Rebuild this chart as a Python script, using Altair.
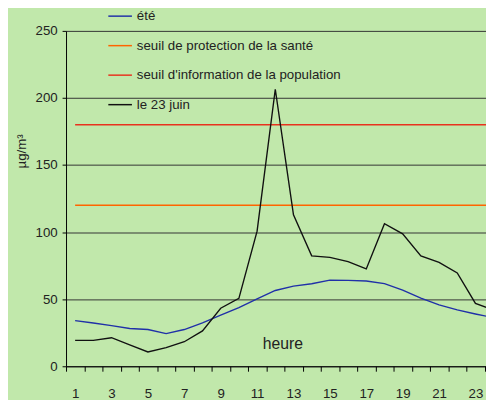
import altair as alt
import pandas as pd

hours = list(range(1, 25))
ete = [34.0, 32.3, 30.3, 28.2, 27.4, 24.4, 27.4, 32.4, 38.2, 43.8, 50.2, 56.5,
       59.8, 61.5, 64.2, 64.0, 63.6, 61.6, 56.7, 50.8, 45.8, 42.0, 39.0, 36.2]
juin = [19.3, 19.3, 21.3, 16.0, 10.7, 13.9, 18.3, 26.4, 43.3, 50.6, 100.7, 206.5,
        112.9, 82.3, 81.2, 78.0, 72.6, 106.3, 98.7, 82.3, 77.5, 69.6, 46.9, 42.0]
seuil_sante = 120
seuil_info = 180

series_names = ["été", "seuil de protection de la santé",
                "seuil d'information de la population", "le 23 juin"]
series_colors = ["#2030a8", "#ff6400", "#e8321e", "#111111"]

rows = []
for h, v in zip(hours, ete):
    rows.append({"heure": h, "valeur": v, "serie": series_names[0]})
for h in hours:
    rows.append({"heure": h, "valeur": seuil_sante, "serie": series_names[1]})
for h in hours:
    rows.append({"heure": h, "valeur": seuil_info, "serie": series_names[2]})
for h, v in zip(hours, juin):
    rows.append({"heure": h, "valeur": v, "serie": series_names[3]})
df = pd.DataFrame(rows)

x_ticks = [h - 0.5 for h in hours] + hours
y_ticks = [0, 50, 100, 150, 200, 250]

FS = 13.5

chart = alt.Chart(df).mark_line(clip=True, strokeWidth=1.4).encode(
    x=alt.X("heure:Q",
            scale=alt.Scale(domain=[0.5, 23.58], nice=False, zero=False),
            axis=alt.Axis(values=x_ticks, grid=False, title="heure",
                          titleX=220, titleY=-23, titleBaseline="middle",
                          titleFontSize=16, titleFontWeight="normal",
                          titleColor="#222222",
                          domainColor="#000000", tickColor="#000000",
                          tickSize=5,
                          tickOpacity={"condition": {"test": "datum.value % 1 != 0", "value": 1}, "value": 0},
                          labelExpr="datum.value % 2 == 1 ? format(datum.value, 'd') : ''",
                          labelOverlap=False, labelFlush=False, labelPadding=16,
                          labelFontSize=FS, labelColor="#222222")),
    y=alt.Y("valeur:Q",
            scale=alt.Scale(domain=[0, 250], nice=False),
            axis=alt.Axis(values=y_ticks, grid=True, gridColor="#333333",
                          gridOpacity=1, title="µg/m³",
                          titleX=-45, titleY=122, titleBaseline="middle",
                          titleFontSize=FS, titleFontWeight="normal",
                          titleColor="#222222",
                          domainColor="#000000", tickColor="#000000", tickSize=4,
                          labelPadding=5, labelFontSize=FS, labelColor="#222222")),
    color=alt.Color("serie:N",
                    scale=alt.Scale(domain=series_names, range=series_colors),
                    legend=alt.Legend(orient="none", legendX=42, legendY=-28,
                                      title=None, symbolType="stroke",
                                      symbolSize=576, symbolStrokeWidth=1.5,
                                      labelFontSize=FS, labelColor="#222222",
                                      labelOffset=4, rowPadding=10, padding=0,
                                      labelLimit=400)),
).properties(
    width=427, height=341,
    autosize=alt.AutoSizeParams(type="none"),
    padding={"left": 59, "top": 20, "right": 0, "bottom": 31},
    background="#c1e8ab",
).configure(font="Liberation Sans").configure_view(strokeWidth=0)

chart.save("out.html", embed_options={"renderer": "svg", "actions": False})
